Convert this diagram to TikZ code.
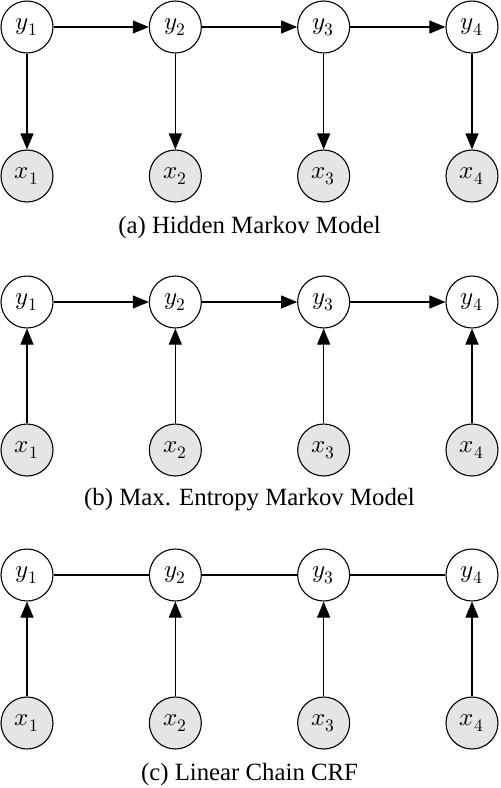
\documentclass[tikz,border=0pt]{standalone}
\usepackage{fontspec}
\setmainfont{Liberation Serif}
\usepackage{unicode-math}
\setmathfont{Latin Modern Math}
\usetikzlibrary{arrows.meta}
\tikzset{
  hid/.style={circle,draw,line width=0.55pt,minimum size=26pt,inner sep=0pt,fill=white,font=\fontsize{12.5}{15}\selectfont},
  obs/.style={hid,fill=gray!20},
  arr/.style={line width=0.55pt,-{Triangle[length=8pt,width=6.5pt]}},
  lnk/.style={line width=0.55pt},
  captext/.style={font=\fontsize{12.4}{15}\selectfont,inner sep=0pt}
}
\begin{document}
\begin{tikzpicture}[x=0.5pt,y=-0.5pt]
\useasboundingbox (0,0) rectangle (500,788);
\foreach \i in {1,...,4}{
  \pgfmathsetmacro{\cx}{27+148.33*(\i-1)}
  \node[hid] (ay\i) at (\cx,27) {$y_{\i}$};
  \node[obs] (ax\i) at (\cx,176) {$x_{\i}$};
  \node[hid] (by\i) at (\cx,302) {$y_{\i}$};
  \node[obs] (bx\i) at (\cx,450) {$x_{\i}$};
  \node[hid] (cy\i) at (\cx,575) {$y_{\i}$};
  \node[obs] (cx\i) at (\cx,723) {$x_{\i}$};
}
\foreach \i/\j in {1/2,2/3,3/4}{
  \draw[arr] (ay\i) -- (ay\j);
  \draw[arr] (by\i) -- (by\j);
  \draw[lnk] (cy\i) -- (cy\j);
}
\foreach \i in {1,...,4}{
  \draw[arr] (ay\i) -- (ax\i);
  \draw[arr] (bx\i) -- (by\i);
  \draw[arr] (cx\i) -- (cy\i);
}
\node[captext] (capa) at (249.5,228) {(a) Hidden Markov Model};
\node[captext] (capb) at (249.5,500) {(b) Max. Entropy Markov Model};
\node[captext] (capc) at (249.5,775) {(c) Linear Chain CRF};
\end{tikzpicture}
\end{document}
